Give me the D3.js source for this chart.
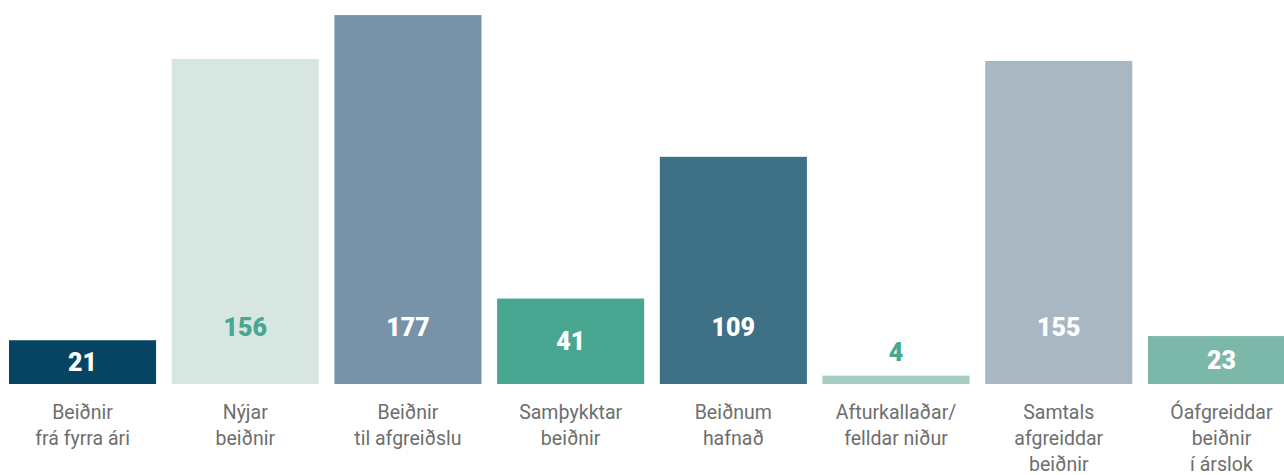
<!DOCTYPE html>
<html>
<head>
<meta charset="utf-8">
<script src="https://cdn.jsdelivr.net/npm/d3@7"></script>
<style>
  body { margin: 0; background: #fff; }
  svg { display: block; }
</style>
</head>
<body>
<svg id="chart" width="1284" height="475"></svg>
<script>
// categories (each label split into lines)
const categories = [
  ["Beiðnir", "frá fyrra ári"],
  ["Nýjar", "beiðnir"],
  ["Beiðnir", "til afgreiðslu"],
  ["Samþykktar", "beiðnir"],
  ["Beiðnum", "hafnað"],
  ["Afturkallaðar/", "felldar niður"],
  ["Samtals", "afgreiddar", "beiðnir"],
  ["Óafgreiddar", "beiðnir", "í árslok"]
]
const values = [21, 156, 177, 41, 109, 4, 155, 23]
const barColors = ["#064462", "#d7e6e1", "#7893a7", "#49a691", "#3e7186", "#a5cbc2", "#a8b7c2", "#7bb8a9"]
const labelColors = ["#ffffff", "#49a691", "#ffffff", "#ffffff", "#ffffff", "#49a691", "#ffffff", "#ffffff"]

let svg = d3.select("#chart")
let baseY = 384

let x = d3.scaleBand()
  .domain(d3.range(values.length))
  .range([9, 1295])
  .paddingInner(0.096)
  .paddingOuter(0)

let y = d3.scaleLinear()
  .domain([0, 178])
  .range([baseY, 13])

// bars
svg.append("g").selectAll("rect")
  .data(values)
  .join("rect")
  .attr("x", (d, i) => x(i))
  .attr("y", d => y(d))
  .attr("width", x.bandwidth())
  .attr("height", d => baseY - y(d))
  .attr("fill", (d, i) => barColors[i])

// value labels: centred in short bars, fixed row for tall ones, above tiny ones
svg.append("g").selectAll("text")
  .data(values)
  .join("text")
  .attr("x", (d, i) => x(i) + x.bandwidth() / 2)
  .attr("y", d => {
    let h = baseY - y(d)
    if (h < 30) return y(d) - 15
    return Math.max((y(d) + baseY) / 2 + 9, 336)
  })
  .attr("text-anchor", "middle")
  .attr("font-family", "Roboto, sans-serif")
  .attr("font-weight", 900)
  .attr("font-size", 25)
  .attr("fill", (d, i) => labelColors[i])
  .text(d => d)

// category labels
let cats = svg.append("g").selectAll("text")
  .data(categories)
  .join("text")
  .attr("x", (d, i) => x(i) + x.bandwidth() / 2)
  .attr("y", 419)
  .attr("text-anchor", "middle")
  .attr("font-family", "Roboto, sans-serif")
  .attr("font-size", 19.5)
  .attr("fill", "#6e6e6e")

cats.selectAll("tspan")
  .data(d => d)
  .join("tspan")
  .attr("x", function () { return this.parentNode.getAttribute("x") })
  .attr("dy", (d, i) => i == 0 ? 0 : 26)
  .text(d => d)
</script>
</body>
</html>
